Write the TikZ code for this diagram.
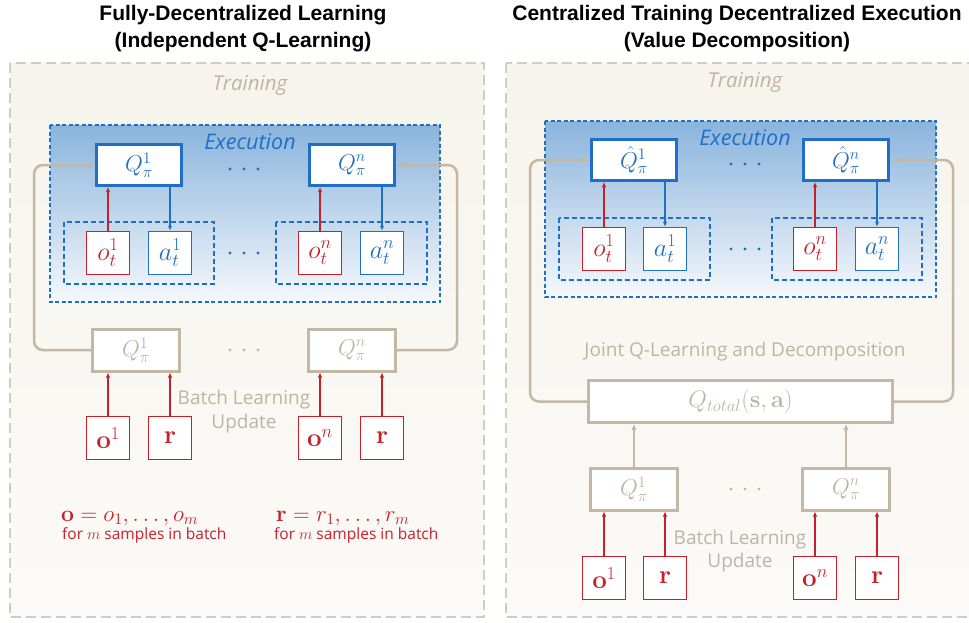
\RequirePackage{fix-cm}
\documentclass[tikz,border=0pt]{standalone}
\usepackage[no-math]{fontspec}
\setmainfont{Liberation Sans}
\newfontfamily\labelfont{Open Sans}
\usetikzlibrary{arrows.meta}

\definecolor{creamtop}{HTML}{F6F4EC}
\definecolor{creambot}{HTML}{FBFAF8}
\definecolor{creamedge}{HTML}{D3CCC1}
\definecolor{taupe}{HTML}{C4B8A5}
\definecolor{taupetext}{HTML}{BFB4A3}
\definecolor{exblue}{HTML}{1F6FC6}
\definecolor{shadetop}{HTML}{8AB4DC}
\definecolor{shadebot}{HTML}{F5F8FC}
\definecolor{rred}{HTML}{C8202B}

\tikzset{
  fs/.style={font=\fontsize{#1}{#1}\selectfont},
  title/.style={font=\fontsize{21}{27}\selectfont\bfseries, align=center},
  panel/.style={draw=creamedge, line width=2.5pt, dash pattern=on 10pt off 5pt,
    top color=creamtop, bottom color=creambot},
  exec/.style={draw=exblue, line width=1.3pt, dash pattern=on 4pt off 2.5pt,
    top color=shadetop, bottom color=shadebot},
  pair/.style={draw=exblue, line width=1.3pt, dash pattern=on 5pt off 3pt},
  qbox/.style={draw=exblue, line width=3pt, fill=white, text=exblue,
    minimum width=85pt, minimum height=41pt, inner sep=0pt, fs=23},
  qgray/.style={draw=taupe, line width=3pt, fill=white, text=taupetext,
    minimum width=87pt, minimum height=42pt, inner sep=0pt, fs=23},
  obox/.style={draw=rred, line width=1.5pt, fill=white, text=rred,
    minimum width=43pt, minimum height=43pt, inner sep=0pt, fs=26},
  abox/.style={obox, draw=exblue, text=exblue},
  lbl/.style={text=taupetext, font=\labelfont\fontsize{19}{22}\selectfont},
  secname/.style={font=\labelfont\itshape\fontsize{#1}{24}\selectfont},
  rarr/.style={draw=rred, line width=1.5pt, -{Latex[length=5pt,width=4.5pt]}},
  barr/.style={draw=exblue, line width=1.5pt, -{Latex[length=5pt,width=4.5pt]}},
  garr/.style={draw=taupe, line width=2.2pt, -{Latex[length=6pt,width=5.5pt]}},
  loop/.style={draw=taupe, line width=2.5pt, rounded corners=9pt,
    -{Latex[length=8pt,width=7pt]}},
  note/.style={text=rred, anchor=base west, inner sep=0pt},
  notesmall/.style={note, font=\labelfont\fontsize{15.5}{17}\selectfont},
}

\newcommand{\threedots}[3]{%
  \foreach \dx in {-14,0,14} \fill[#3] (#1+\dx,#2) circle (1.7pt);}

\begin{document}
\begin{tikzpicture}[x=1pt,y=-1pt]
\useasboundingbox (0,0) rectangle (969,622);
\fill[white] (0,0) rectangle (969,622);

% ---------------- left panel: independent Q-learning ----------------
\node[title] (tl) at (243,29) {Fully-Decentralized Learning\\(Independent Q-Learning)};
\draw[panel] (10,63) rectangle (484,617);
\node[secname=20.5, text=taupetext] (trl) at (250,85) {Training};
\draw[exec] (50,125) rectangle (440,302);
\node[secname=21.5, text=exblue] (exl) at (250,142) {Execution};

\draw[pair] (64,222) rectangle (214,284);
\draw[pair] (276,222) rectangle (427,284);

\node[qbox] (q1) at (139,165) {$Q^1_\pi$};
\node[qbox] (qn) at (352,165) {$Q^n_\pi$};
\threedots{244}{169}{exblue}

\node[obox] (ot1) at (108,253) {$o^1_t$};
\node[abox] (at1) at (170,253) {$a^1_t$};
\node[obox] (otn) at (320,253) {$o^n_t$};
\node[abox] (atn) at (382,253) {$a^n_t$};
\threedots{244}{253}{exblue}

\draw[rarr] (ot1.north) -- (ot1.north |- q1.south);
\draw[barr] (at1.north |- q1.south) -- (at1.north);
\draw[rarr] (otn.north) -- (otn.north |- qn.south);
\draw[barr] (atn.north |- qn.south) -- (atn.north);

\node[qgray] (lq1) at (136,350) {$Q^1_\pi$};
\node[qgray] (lqn) at (352,350) {$Q^n_\pi$};
\threedots{244}{350}{taupe}

\draw[loop] (lq1.west) -- (34,350) -- (34,165) -- (q1.west);
\draw[loop] (lqn.east) -- (457,350) -- (457,165) -- (qn.east);

\node[obox] (bo1) at (108,438) {$\mathbf{o}^1$};
\node[obox] (br1) at (170,438) {$\mathbf{r}$};
\node[obox] (bon) at (320,438) {$\mathbf{o}^n$};
\node[obox] (brn) at (382,438) {$\mathbf{r}$};
\draw[rarr] (bo1.north) -- (bo1.north |- lq1.south);
\draw[rarr] (br1.north) -- (br1.north |- lq1.south);
\draw[rarr] (bon.north) -- (bon.north |- lqn.south);
\draw[rarr] (brn.north) -- (brn.north |- lqn.south);

\node[lbl] (bll) at (244,400) {Batch Learning};
\node[lbl] (blu) at (244,424) {Update};

\node[note, fs=23] (eqo) at (61,521) {$\mathbf{o}=o_1,\dots,o_m$};
\node[notesmall] (fo) at (62,539) {for $m$ samples in batch};
\node[note, fs=23] (eqr) at (276,521) {$\mathbf{r}=r_1,\dots,r_m$};
\node[notesmall] (fr) at (274,539) {for $m$ samples in batch};

% ---------------- right panel: value decomposition ----------------
\node[title] (tr) at (737,29) {Centralized Training Decentralized Execution\\(Value Decomposition)};
\draw[panel] (506,63) rectangle (990,617);
\node[secname=20.5, text=taupetext] (trr) at (745,82) {Training};
\draw[exec] (545,121) rectangle (936,297);
\node[secname=21.5, text=exblue] (exr) at (745,138) {Execution};

\draw[pair] (559,218) rectangle (710,280);
\draw[pair] (772,218) rectangle (922,280);

\node[qbox] (h1) at (634,160) {$\hat{Q}^1_\pi$};
\node[qbox] (hn) at (846,160) {$\hat{Q}^n_\pi$};
\threedots{745}{164}{exblue}

\node[obox] (rot1) at (604,249) {$o^1_t$};
\node[abox] (rat1) at (665,249) {$a^1_t$};
\node[obox] (rotn) at (815,249) {$o^n_t$};
\node[abox] (ratn) at (877,249) {$a^n_t$};
\threedots{745}{249}{exblue}

\draw[rarr] (rot1.north) -- (rot1.north |- h1.south);
\draw[barr] (rat1.north |- h1.south) -- (rat1.north);
\draw[rarr] (rotn.north) -- (rotn.north |- hn.south);
\draw[barr] (ratn.north |- hn.south) -- (ratn.north);

\node[lbl] (jq) at (745,352) {Joint Q-Learning and Decomposition};
\node[qgray, minimum width=304pt, fs=24] (qt) at (740.5,401.5) {$Q_{total}(\mathbf{s},\mathbf{a})$};

\draw[loop] (qt.west) -- (530,401.5) -- (530,160) -- (h1.west);
\draw[loop] (qt.east) -- (953,401.5) -- (953,160) -- (hn.east);

\node[qgray] (rq1) at (634,489) {$Q^1_\pi$};
\node[qgray] (rqn) at (846,489) {$Q^n_\pi$};
\threedots{745}{489}{taupe}
\draw[garr] (rq1.north) -- (rq1.north |- qt.south);
\draw[garr] (rqn.north) -- (rqn.north |- qt.south);

\node[obox] (ro1) at (604,578) {$\mathbf{o}^1$};
\node[obox] (rr1) at (665,578) {$\mathbf{r}$};
\node[obox] (ron) at (815,578) {$\mathbf{o}^n$};
\node[obox] (rrn) at (877,578) {$\mathbf{r}$};
\draw[rarr] (ro1.north) -- (ro1.north |- rq1.south);
\draw[rarr] (rr1.north) -- (rr1.north |- rq1.south);
\draw[rarr] (ron.north) -- (ron.north |- rqn.south);
\draw[rarr] (rrn.north) -- (rrn.north |- rqn.south);

\node[lbl] (rbl) at (740,540) {Batch Learning};
\node[lbl] (rbu) at (740,563) {Update};
\end{tikzpicture}
\end{document}
